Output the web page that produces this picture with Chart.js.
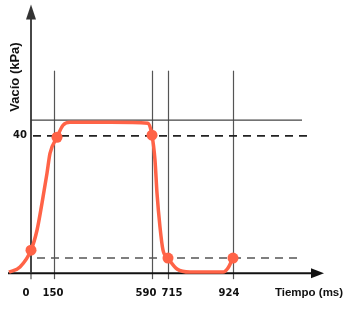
<!DOCTYPE html>
<html>
<head>
<meta charset="utf-8">
<script src="https://cdn.jsdelivr.net/npm/chart.js@4"></script>
<style>
    html, body { margin: 0; padding: 0; background: #fff; }
    canvas { display: block; }
</style>
</head>
<body>
<canvas id="vacio-chart" width="353" height="309"></canvas>
<script>
// Time axis is schematic: lines sit at these axis positions
const tiempoEtiquetas = ['0', '150', '590', '715', '924'];
const tiempoPos = [0, 23, 121, 137, 202];

// Vacuum axis
const vacioEtiquetas = ['40'];
const vacioPos = [40];
const nivelSuperior = 44.6;   // solid reference line
const nivelInferior = 4.4;    // lower dashed line

// Vacuum curve
const curvaX = [-22, -11, 0, 6, 11, 16, 19, 26, 32, 39, 80, 117, 121, 124, 126, 129, 132, 137, 146, 159, 192, 197, 202];
const curvaY = [0.3, 1.8, 6.7, 12.5, 20.4, 29.1, 34.9, 39.6, 43.1, 44.0, 44.0, 43.7, 40.2, 32.9, 23.3, 13.4, 6.7, 4.4, 1.2, 0.3, 0.3, 1.5, 4.4];

// Marked points
const puntosX = [0, 26, 121, 137, 202];
const puntosY = [6.7, 39.6, 40.2, 4.4, 4.4];

const ROJO = '#FF6347';

(function() {
    'use strict';

    const toXY = (xs, ys) => xs.map((x, i) => ({ x: x, y: ys[i] }));

    // labels in the original are nudged off their lines
    const desplazamiento = [-5, -1, -6, 4, -4];

    const diagrama = {
        id: 'diagrama',
        beforeDatasetsDraw: function(chart) {
            const ctx = chart.ctx;
            const sx = chart.scales.x;
            const sy = chart.scales.y;
            const y0 = sy.getPixelForValue(0);
            const x0 = sx.getPixelForValue(0);

            ctx.save();

            // Vertical lines at each time mark
            ctx.strokeStyle = '#555';
            ctx.lineWidth = 1.2;
            tiempoPos.slice(1).forEach(function(t) {
                const px = Math.round(sx.getPixelForValue(t)) + 0.5;
                ctx.beginPath();
                ctx.moveTo(px, sy.getPixelForValue(59));
                ctx.lineTo(px, y0 + 6);
                ctx.stroke();
            });
            // tick under 0
            ctx.beginPath();
            ctx.moveTo(x0, y0);
            ctx.lineTo(x0, y0 + 6);
            ctx.stroke();

            // Solid upper reference line
            ctx.strokeStyle = '#444';
            ctx.lineWidth = 1.4;
            ctx.beginPath();
            ctx.moveTo(x0, sy.getPixelForValue(nivelSuperior));
            ctx.lineTo(sx.getPixelForValue(271), sy.getPixelForValue(nivelSuperior));
            ctx.stroke();

            // Dashed lines
            ctx.setLineDash([8, 6]);
            ctx.strokeStyle = '#222';
            ctx.lineWidth = 1.8;
            ctx.beginPath();
            ctx.moveTo(x0 + 2, sy.getPixelForValue(vacioPos[0]));
            ctx.lineTo(sx.getPixelForValue(277), sy.getPixelForValue(vacioPos[0]));
            ctx.stroke();

            ctx.strokeStyle = '#555';
            ctx.lineWidth = 1.6;
            ctx.beginPath();
            ctx.moveTo(sx.getPixelForValue(6), sy.getPixelForValue(nivelInferior));
            ctx.lineTo(sx.getPixelForValue(271), sy.getPixelForValue(nivelInferior));
            ctx.stroke();
            ctx.setLineDash([]);

            // Axes with arrows
            const xEnd = chart.chartArea.right;
            const yTop = chart.chartArea.top - 1;

            ctx.strokeStyle = '#111';
            ctx.fillStyle = '#111';
            ctx.lineWidth = 2;
            ctx.beginPath();
            ctx.moveTo(chart.chartArea.left, y0);
            ctx.lineTo(xEnd - 6, y0);
            ctx.stroke();
            ctx.beginPath();
            ctx.moveTo(xEnd, y0);
            ctx.lineTo(xEnd - 13, y0 - 5);
            ctx.lineTo(xEnd - 13, y0 + 5);
            ctx.closePath();
            ctx.fill();

            ctx.strokeStyle = '#333';
            ctx.fillStyle = '#333';
            ctx.lineWidth = 1.8;
            ctx.beginPath();
            ctx.moveTo(x0, y0);
            ctx.lineTo(x0, yTop + 8);
            ctx.stroke();
            ctx.beginPath();
            ctx.moveTo(x0, yTop);
            ctx.lineTo(x0 - 5, yTop + 15);
            ctx.lineTo(x0 + 5, yTop + 15);
            ctx.closePath();
            ctx.fill();

            ctx.restore();
        },
        afterDraw: function(chart) {
            const ctx = chart.ctx;
            const sx = chart.scales.x;
            const sy = chart.scales.y;
            const y0 = sy.getPixelForValue(0);

            ctx.save();
            ctx.fillStyle = '#111';
            ctx.textAlign = 'center';
            ctx.textBaseline = 'middle';
            ctx.font = 'bold 10px "DejaVu Sans", Verdana, sans-serif';
            tiempoEtiquetas.forEach(function(lbl, i) {
                ctx.fillText(lbl, sx.getPixelForValue(tiempoPos[i]) + desplazamiento[i], y0 + 20);
            });
            vacioEtiquetas.forEach(function(lbl, i) {
                ctx.fillText(lbl, 20, sy.getPixelForValue(vacioPos[i]));
            });

            ctx.font = 'bold 11.5px "Liberation Sans", Arial, sans-serif';
            ctx.fillText('Tiempo (ms)', 309, y0 + 20);

            ctx.translate(15, 77);
            ctx.rotate(-Math.PI / 2);
            ctx.font = 'bold 13px "Liberation Sans", Arial, sans-serif';
            ctx.fillText('Vacío (kPa)', 0, 0);
            ctx.restore();
        }
    };

    new Chart(document.getElementById('vacio-chart'), {
        type: 'line',
        data: {
            datasets: [
                {
                    label: 'Puntos',
                    data: toXY(puntosX, puntosY),
                    showLine: false,
                    pointRadius: 5.5,
                    pointBackgroundColor: ROJO,
                    pointBorderColor: ROJO,
                    pointBorderWidth: 0,
                    order: 0
                },
                {
                    label: 'Vacío',
                    data: toXY(curvaX, curvaY),
                    borderColor: ROJO,
                    borderWidth: 3.5,
                    pointRadius: 0,
                    cubicInterpolationMode: 'monotone',
                    fill: false,
                    clip: false,
                    order: 1
                }
            ]
        },
        options: {
            responsive: false,
            animation: false,
            events: [],
            layout: {
                padding: { left: 8, top: 5, right: 29, bottom: 29 }
            },
            plugins: {
                legend: { display: false },
                tooltip: { enabled: false }
            },
            scales: {
                x: { type: 'linear', min: -23, max: 293, display: false },
                y: { type: 'linear', min: -2, max: 78, display: false }
            }
        },
        plugins: [diagrama]
    });
})();
</script>
</body>
</html>
